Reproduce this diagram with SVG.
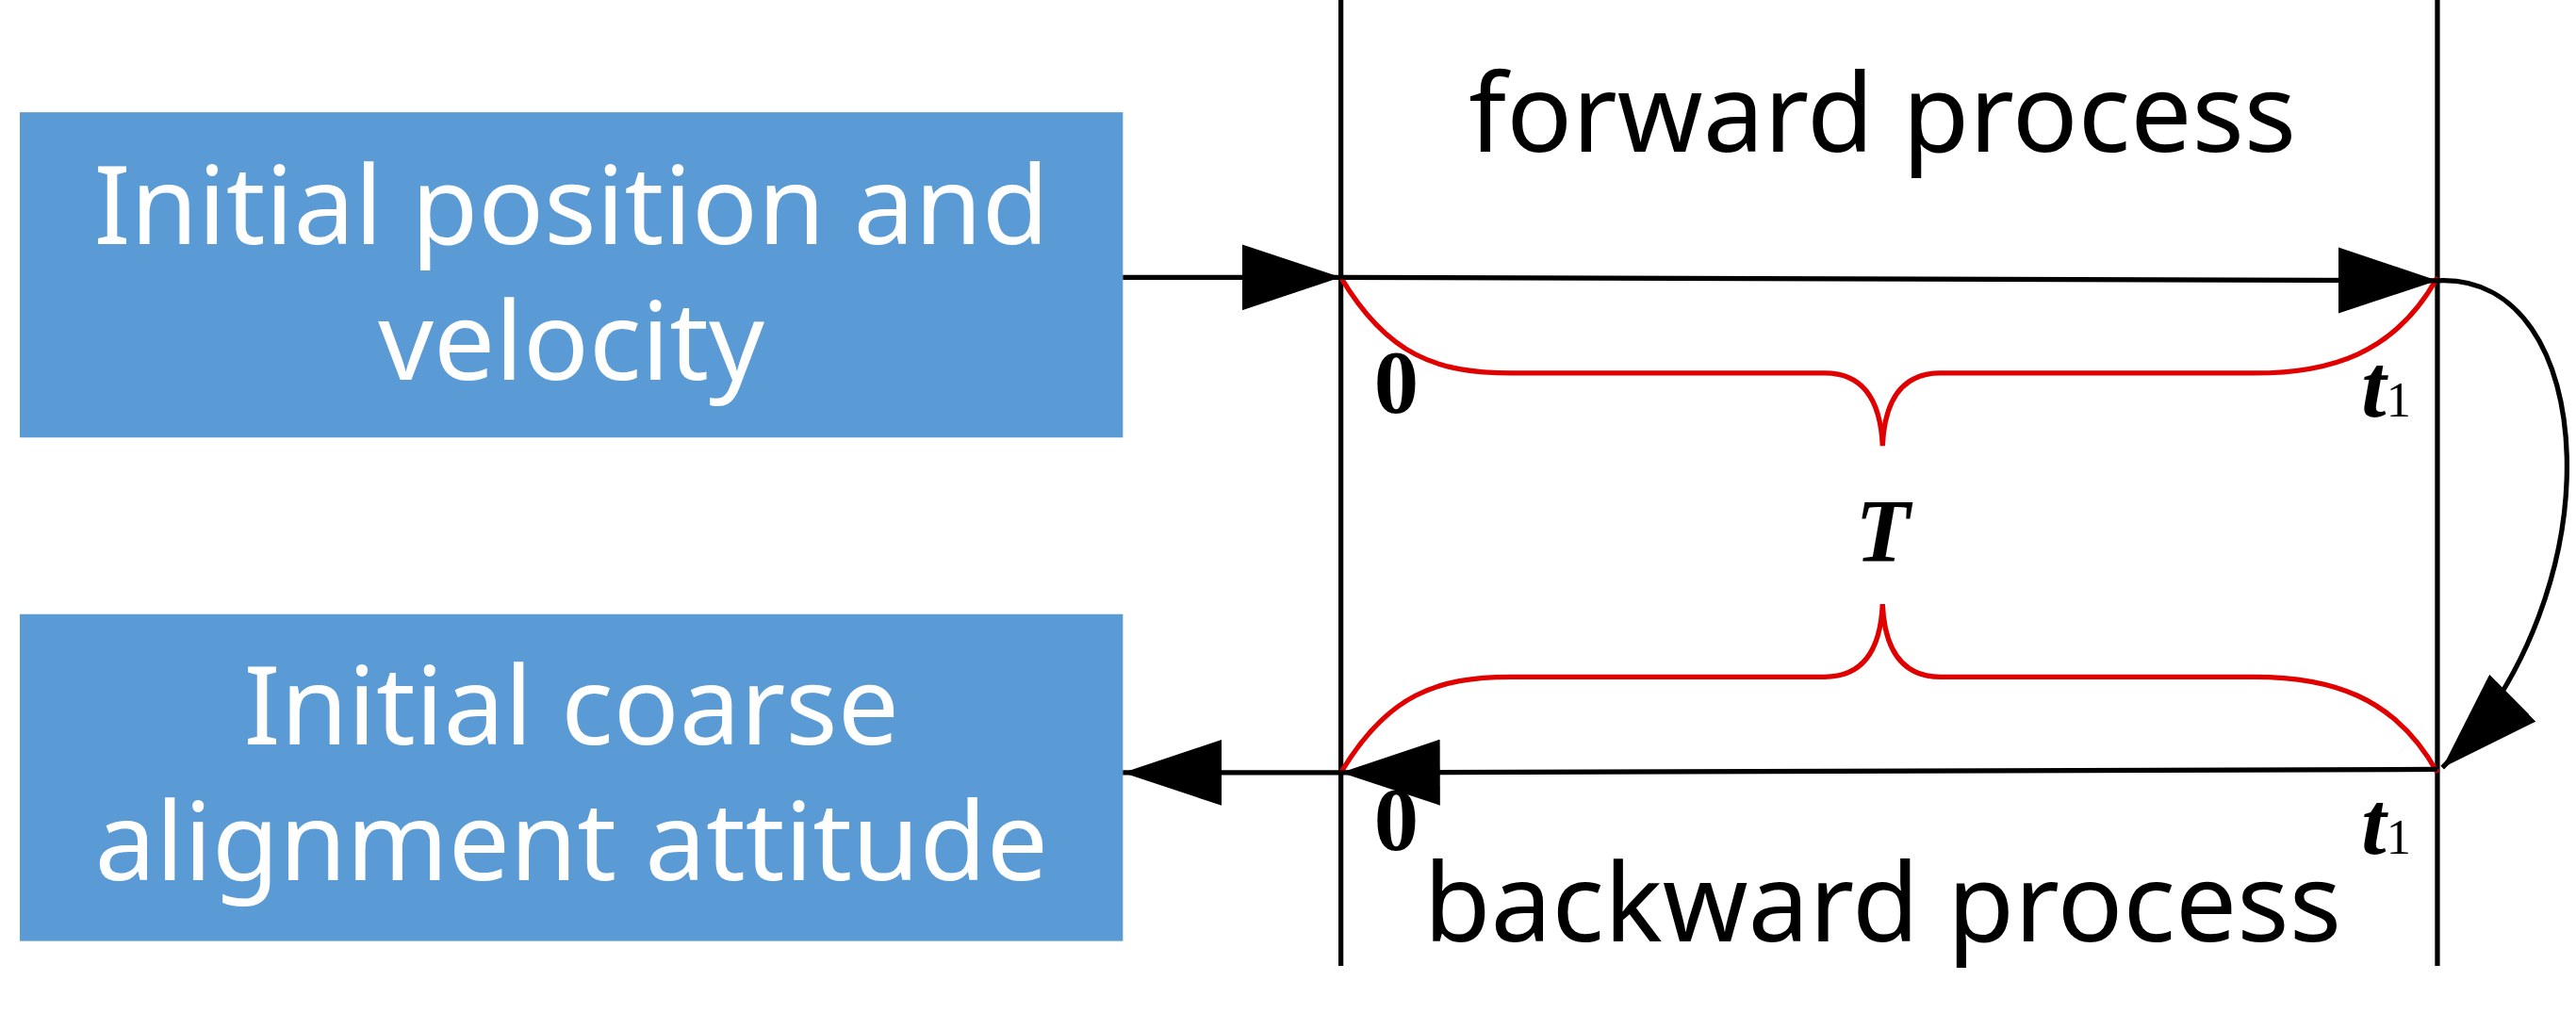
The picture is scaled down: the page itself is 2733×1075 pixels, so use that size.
<svg xmlns="http://www.w3.org/2000/svg" width="2733" height="1075" viewBox="0 0 2733 1075">
<style>
.box{fill:#5B9BD5}
.bt{fill:#fff;font-family:"Noto Sans","Open Sans",sans-serif;font-size:66px;text-anchor:middle}
.lab{fill:#000;font-family:"Noto Sans","Open Sans",sans-serif;font-size:66px;text-anchor:middle}
.ln{stroke:#000;stroke-width:3;fill:none}
.red{stroke:#E00000;stroke-width:3;fill:none}
.m{font-family:"Liberation Serif",serif;font-weight:bold;font-size:54px;fill:#000}
</style>
<defs>
<marker id="a" viewBox="0 0 60 40" refX="60" refY="20" markerWidth="60" markerHeight="40" orient="auto" markerUnits="userSpaceOnUse"><path d="M0,0 L60,20 L0,40 Z" fill="#000"/></marker>
</defs>
<rect width="2733" height="1075" fill="#fff"/>
<g transform="scale(1.752)">
<g id="box1"><rect class="box" x="12" y="68" width="668" height="197"/>
<text class="bt" x="346" y="148">Initial position and</text><text class="bt" x="346" y="230">velocity</text></g>
<g id="box2"><rect class="box" x="12" y="372" width="668" height="198"/>
<text class="bt" x="346" y="451">Initial coarse</text><text class="bt" x="346" y="533">alignment attitude</text></g>
<g id="timeline">
<line class="ln" x1="812" y1="0" x2="812" y2="585"/>
<line class="ln" x1="1476" y1="0" x2="1476" y2="585"/>
<text class="lab" x="1140" y="92">forward process</text>
<text class="lab" x="1140" y="570">backward process</text>
<text class="m" x="832" y="250">0</text>
<text class="m" x="832" y="515">0</text>
<text class="m" x="1430" y="252" font-style="italic">t<tspan font-size="30" font-weight="normal" font-style="normal">1</tspan></text>
<text class="m" x="1430" y="517" font-style="italic">t<tspan font-size="30" font-weight="normal" font-style="normal">1</tspan></text>
<text class="m" x="1140" y="340" text-anchor="middle" font-style="italic" font-size="58">T</text>
</g>
<g id="braces">
<path class="red" d="M812,168 C840,215 870,226 915,226 L1105,226 Q1138,226 1140,270 Q1142,226 1175,226 L1365,226 C1410,226 1450,215 1476,168"/>
<path class="red" d="M812,468 C840,421 870,410 915,410 L1105,410 Q1138,410 1140,366 Q1142,410 1175,410 L1365,410 C1410,410 1450,421 1476,468"/>
</g>
<g id="connectors">
<line class="ln" x1="680" y1="168" x2="812" y2="168" marker-end="url(#a)"/>
<line class="ln" x1="812" y1="168" x2="1476" y2="170" marker-end="url(#a)"/>
<path class="ln" d="M1476,170 C1575,165 1585,360 1479,465" marker-end="url(#a)"/>
<line class="ln" x1="1476" y1="466" x2="812" y2="468" marker-end="url(#a)"/>
<line class="ln" x1="812" y1="468" x2="680" y2="468" marker-end="url(#a)"/>
</g>
</g>
</svg>
